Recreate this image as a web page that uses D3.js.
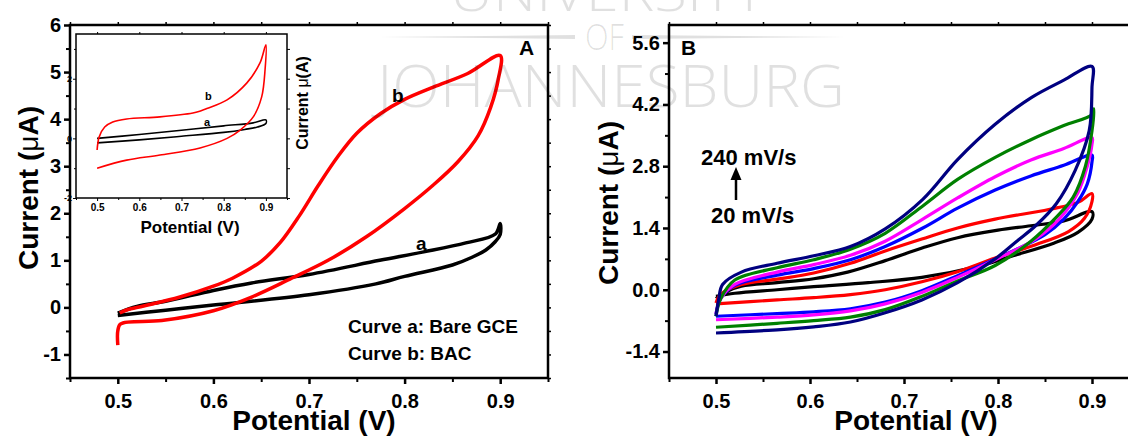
<!DOCTYPE html>
<html>
<head>
<meta charset="utf-8">
<script src="https://cdn.jsdelivr.net/npm/d3@7"></script>
<style>
  body { margin: 0; background: #fff; }
  svg { display: block; font-family: "Liberation Sans", Arial, sans-serif; }
</style>
</head>
<body>
<svg id="chart" width="1128" height="436"></svg>
<script>
// ---- tick values ----
const potTicks = [0.5, 0.6, 0.7, 0.8, 0.9];
const potMinor = [0.45, 0.55, 0.65, 0.75, 0.85, 0.95];
const curTicksA = [-1, 0, 1, 2, 3, 4, 5, 6];
const curMinorA = [-1.5, -0.5, 0.5, 1.5, 2.5, 3.5, 4.5, 5.5];
const curTicksB = [-1.4, 0, 1.4, 2.8, 4.2, 5.6];
const curMinorB = [-0.7, 0.7, 2.1, 3.5, 4.9];
const insetTicks = [-2, 0, 2];
const insetMinor = [-1, 1, 3];

// ---- panel A: [potential V, current uA] ----
const bareGCE = [
  [0.5, -0.12], [0.52, 0.02], [0.55, 0.13], [0.6, 0.36], [0.64, 0.52], [0.7, 0.7],
  [0.774, 1.0], [0.82, 1.18], [0.864, 1.37], [0.895, 1.56], [0.9, 1.78], [0.9, 1.55],
  [0.895, 1.4], [0.885, 1.22], [0.87, 1.06], [0.85, 0.9], [0.8, 0.66], [0.77, 0.5],
  [0.7, 0.27], [0.6, 0.05], [0.55, -0.06], [0.5, -0.17]
];
const bacCurve = [
  [0.5, -0.8], [0.5, -0.5], [0.503, -0.35], [0.546, -0.28], [0.6, -0.07], [0.64, 0.22],
  [0.68, 0.6], [0.72, 1.0], [0.76, 1.5], [0.8, 2.1], [0.83, 2.6], [0.856, 3.1],
  [0.877, 3.65], [0.89, 4.25], [0.898, 4.85], [0.9, 5.35], [0.866, 4.97], [0.83, 4.68],
  [0.8, 4.42], [0.775, 4.12], [0.75, 3.7], [0.73, 3.2], [0.71, 2.6], [0.69, 1.95],
  [0.67, 1.38], [0.65, 0.98], [0.62, 0.62], [0.6, 0.45], [0.565, 0.22], [0.527, 0.03],
  [0.51, -0.05], [0.502, -0.12]
];
// inset
const insetBare = [
  [0.5, 0.0], [0.6, 0.13], [0.7, 0.27], [0.8, 0.42], [0.87, 0.52], [0.9, 0.62],
  [0.9, 0.5], [0.88, 0.38], [0.85, 0.3], [0.8, 0.2], [0.7, 0.07], [0.6, -0.05], [0.5, -0.15]
];
const insetBAC = [
  [0.5, -0.39], [0.505, 0.05], [0.518, 0.38], [0.537, 0.55], [0.57, 0.65], [0.649, 0.72],
  [0.727, 0.85], [0.745, 0.92], [0.76, 1.0], [0.808, 1.29], [0.855, 1.86], [0.886, 2.53],
  [0.9, 3.14], [0.898, 2.3], [0.89, 1.39], [0.87, 0.72], [0.839, 0.28], [0.808, 0.0],
  [0.744, -0.32], [0.649, -0.56], [0.57, -0.73], [0.5, -1.0]
];

// ---- panel B: CVs at increasing scan rate (20 -> 240 mV/s) ----
const cv1 = [
  [0.5, -0.2], [0.51, -0.05], [0.527, 0.08], [0.565, 0.16], [0.604, 0.25], [0.64, 0.4],
  [0.68, 0.66], [0.72, 0.95], [0.757, 1.18], [0.8, 1.35], [0.835, 1.45], [0.87, 1.56], [0.9, 1.77],
  [0.9, 1.6], [0.885, 1.3], [0.86, 1.06], [0.816, 0.77], [0.777, 0.52], [0.719, 0.28],
  [0.662, 0.16], [0.604, 0.07], [0.565, 0.0], [0.52, -0.08], [0.5, -0.15]
];
const cv2 = [
  [0.5, -0.3], [0.505, -0.1], [0.527, 0.12], [0.565, 0.24], [0.604, 0.38], [0.643, 0.6],
  [0.68, 0.88], [0.719, 1.15], [0.757, 1.4], [0.797, 1.6], [0.854, 1.82], [0.885, 1.98], [0.9, 2.18],
  [0.9, 2.0], [0.892, 1.62], [0.875, 1.32], [0.84, 1.02], [0.797, 0.72], [0.757, 0.41],
  [0.719, 0.18], [0.68, 0.0], [0.643, -0.11], [0.604, -0.18], [0.565, -0.23], [0.5, -0.32]
];
const cv3 = [
  [0.5, -0.55], [0.505, -0.2], [0.52, 0.1], [0.565, 0.33], [0.604, 0.48], [0.643, 0.68],
  [0.68, 0.98], [0.72, 1.4], [0.757, 1.85], [0.797, 2.26], [0.835, 2.58], [0.87, 2.82], [0.9, 3.05],
  [0.9, 2.9], [0.895, 2.4], [0.885, 2.0], [0.87, 1.6], [0.85, 1.25], [0.82, 0.92], [0.797, 0.7],
  [0.757, 0.32], [0.719, -0.02], [0.68, -0.28], [0.643, -0.43], [0.604, -0.5], [0.565, -0.54], [0.5, -0.6]
];
const cv4 = [
  [0.5, -0.55], [0.505, -0.2], [0.52, 0.12], [0.565, 0.4], [0.604, 0.57], [0.643, 0.78],
  [0.68, 1.1], [0.72, 1.6], [0.757, 2.08], [0.797, 2.56], [0.835, 2.94], [0.87, 3.2], [0.9, 3.45],
  [0.9, 3.3], [0.895, 2.8], [0.885, 2.2], [0.865, 1.6], [0.84, 1.15], [0.797, 0.68], [0.757, 0.28],
  [0.719, -0.06], [0.68, -0.32], [0.643, -0.48], [0.604, -0.57], [0.565, -0.62], [0.5, -0.68]
];
const cv5 = [
  [0.5, -0.6], [0.505, -0.2], [0.52, 0.22], [0.565, 0.5], [0.604, 0.68], [0.643, 0.92],
  [0.68, 1.28], [0.72, 1.9], [0.757, 2.5], [0.797, 3.0], [0.835, 3.4], [0.87, 3.72], [0.9, 3.97],
  [0.902, 4.1], [0.9, 3.6], [0.893, 2.8], [0.88, 2.1], [0.86, 1.6], [0.835, 1.1], [0.797, 0.55],
  [0.757, 0.2], [0.719, -0.15], [0.68, -0.45], [0.643, -0.62], [0.604, -0.7], [0.565, -0.76], [0.5, -0.85]
];
const cv6 = [
  [0.5, -0.6], [0.503, -0.2], [0.507, 0.12], [0.527, 0.4], [0.565, 0.6], [0.604, 0.77],
  [0.643, 0.98], [0.68, 1.38], [0.72, 2.05], [0.757, 2.95], [0.797, 3.75], [0.835, 4.35],
  [0.87, 4.75], [0.9, 5.06], [0.9, 4.6], [0.897, 3.6], [0.882, 2.7], [0.862, 1.95], [0.84, 1.45],
  [0.82, 1.1], [0.797, 0.7], [0.757, 0.16], [0.719, -0.23], [0.68, -0.52], [0.643, -0.73],
  [0.604, -0.84], [0.565, -0.91], [0.5, -0.98]
];
const loopsB = [cv1, cv2, cv3, cv4, cv5, cv6];
const loopColors = ["#000000", "#ff0000", "#0000ff", "#ff00ff", "#008000", "#000080"];

const svg = d3.select("#chart");
const FONT = '"Liberation Sans", Arial, sans-serif';

// draw an axis without its domain line, styled bold
function addAxis(g, axis, tx, ty, sw, fs) {
  const a = g.append("g")
    .attr("transform", `translate(${tx},${ty})`)
    .call(axis);
  a.select(".domain").remove();
  a.selectAll(".tick line").attr("stroke", "#000").attr("stroke-width", sw);
  a.selectAll(".tick text")
    .attr("fill", "#000")
    .attr("font-family", FONT)
    .attr("font-weight", "bold")
    .attr("font-size", fs);
  return a;
}

function frame(g, x, y, sw, fill) {
  g.append("rect")
    .attr("x", x.range()[0])
    .attr("y", y.range()[1])
    .attr("width", x.range()[1] - x.range()[0])
    .attr("height", y.range()[0] - y.range()[1])
    .attr("fill", fill)
    .attr("stroke", "#000")
    .attr("stroke-width", sw);
}

const fmt1 = d => d.toFixed(1);

/*******************************/
/*          panel A            */
/*******************************/
const xA = d3.scaleLinear().domain([0.45, 0.95]).range([70, 548]);
const yA = d3.scaleLinear().domain([-1.5, 6]).range([378, 25]);
const gA = svg.append("g");

frame(gA, xA, yA, 2.5, "none");
addAxis(gA, d3.axisBottom(xA).tickValues(potTicks).tickSize(6).tickPadding(10).tickFormat(fmt1), 0, 378, 2.5, 20);
addAxis(gA, d3.axisBottom(xA).tickValues(potMinor).tickSize(4).tickFormat(""), 0, 378, 2, 10);
addAxis(gA, d3.axisLeft(yA).tickValues(curTicksA).tickSize(6).tickPadding(3).tickFormat(d => String(d)), 70, 0, 2.5, 20);
addAxis(gA, d3.axisLeft(yA).tickValues(curMinorA).tickSize(4).tickFormat(""), 70, 0, 2, 10);
addAxis(gA, d3.axisTop(xA).tickValues(potTicks.concat(potMinor)).tickSize(3).tickFormat(""), 0, 25, 1.5, 10);
addAxis(gA, d3.axisRight(yA).tickValues(curTicksA.concat(curMinorA)).tickSize(3).tickFormat(""), 548, 0, 1.5, 10);

const lineA = d3.line().x(d => xA(d[0])).y(d => yA(d[1])).curve(d3.curveCatmullRom.alpha(0.5));
gA.append("path").attr("d", lineA(bareGCE)).attr("fill", "none").attr("stroke", "#000")
  .attr("stroke-width", 3.5).attr("stroke-linejoin", "round");
gA.append("path").attr("d", lineA(bacCurve)).attr("fill", "none").attr("stroke", "#ff0000")
  .attr("stroke-width", 3.5).attr("stroke-linejoin", "round");

gA.append("text").attr("x", 392).attr("y", 102).text("b")
  .attr("font-size", 19).attr("font-weight", "bold");
gA.append("text").attr("x", 416).attr("y", 250).text("a")
  .attr("font-size", 19).attr("font-weight", "bold");
gA.append("text").attr("x", 519).attr("y", 55).text("A")
  .attr("font-size", 21).attr("font-weight", "bold");
gA.append("text").attr("x", 348).attr("y", 333).text("Curve a: Bare GCE")
  .attr("font-size", 19).attr("font-weight", "bold");
gA.append("text").attr("x", 348).attr("y", 360).text("Curve b: BAC")
  .attr("font-size", 19).attr("font-weight", "bold");

gA.append("text").attr("x", 314).attr("y", 430).attr("text-anchor", "middle")
  .attr("font-size", 28).attr("font-weight", "bold").text("Potential (V)");
const tA = gA.append("text").attr("transform", "translate(38,188) rotate(-90)")
  .attr("text-anchor", "middle").attr("font-size", 28).attr("font-weight", "bold");
tA.append("tspan").text("Current (");
tA.append("tspan").attr("font-weight", "normal").text("\u03bc");
tA.append("tspan").text("A)");

/* inset */
const xI = d3.scaleLinear().domain([0.45, 0.95]).range([76, 287]);
const yI = d3.scaleLinear().domain([-2, 3.5]).range([198, 34]);
const gI = svg.append("g");
frame(gI, xI, yI, 1.5, "#fff");
addAxis(gI, d3.axisBottom(xI).tickValues(potTicks).tickSize(3).tickPadding(3).tickFormat(fmt1), 0, 198, 1, 10);
addAxis(gI, d3.axisBottom(xI).tickValues(potMinor).tickSize(2).tickFormat(""), 0, 198, 1, 10);
addAxis(gI, d3.axisLeft(yI).tickValues(insetTicks).tickSize(3).tickPadding(1).tickFormat(d => String(d)), 76, 0, 1, 9);
addAxis(gI, d3.axisLeft(yI).tickValues(insetMinor).tickSize(2).tickFormat(""), 76, 0, 1, 9);
addAxis(gI, d3.axisRight(yI).tickValues(insetTicks.concat(insetMinor)).tickSize(3).tickFormat(""), 287, 0, 1, 9);
addAxis(gI, d3.axisTop(xI).tickValues(potTicks).tickSize(2).tickFormat(""), 0, 34, 1, 9);

const lineI = d3.line().x(d => xI(d[0])).y(d => yI(d[1])).curve(d3.curveCatmullRom.alpha(0.5));
gI.append("path").attr("d", lineI(insetBare)).attr("fill", "none").attr("stroke", "#000").attr("stroke-width", 1.6);
gI.append("path").attr("d", lineI(insetBAC)).attr("fill", "none").attr("stroke", "#ff0000").attr("stroke-width", 1.6);
gI.append("text").attr("x", 205).attr("y", 100).text("b").attr("font-size", 11).attr("font-weight", "bold");
gI.append("text").attr("x", 204).attr("y", 126).text("a").attr("font-size", 11).attr("font-weight", "bold");
gI.append("text").attr("x", 190).attr("y", 233).attr("text-anchor", "middle")
  .attr("font-size", 17).attr("font-weight", "bold").text("Potential (V)");
const tI = gI.append("text").attr("transform", "translate(308,103) rotate(-90)")
  .attr("text-anchor", "middle").attr("font-size", 16).attr("font-weight", "bold");
tI.append("tspan").text("Current ");
tI.append("tspan").attr("font-weight", "normal").text("\u03bc");
tI.append("tspan").text("(A)");

/*******************************/
/*          panel B            */
/*******************************/
const xB = d3.scaleLinear().domain([0.45, 0.95]).range([669, 1139]);
const yB = d3.scaleLinear().domain([-2, 6]).range([378, 25]);
const gB = svg.append("g");

frame(gB, xB, yB, 2.5, "none");
addAxis(gB, d3.axisBottom(xB).tickValues(potTicks).tickSize(6).tickPadding(10).tickFormat(fmt1), 0, 378, 2.5, 20);
addAxis(gB, d3.axisBottom(xB).tickValues(potMinor).tickSize(4).tickFormat(""), 0, 378, 2, 10);
addAxis(gB, d3.axisLeft(yB).tickValues(curTicksB).tickSize(6).tickPadding(3).tickFormat(fmt1), 669, 0, 2.5, 20);
addAxis(gB, d3.axisLeft(yB).tickValues(curMinorB).tickSize(4).tickFormat(""), 669, 0, 2, 10);
addAxis(gB, d3.axisTop(xB).tickValues(potTicks.concat(potMinor)).tickSize(3).tickFormat(""), 0, 25, 1.5, 10);

const lineB = d3.line().x(d => xB(d[0])).y(d => yB(d[1])).curve(d3.curveCatmullRom.alpha(0.5));
gB.selectAll(".cv")
  .data(loopsB)
  .join("path")
    .attr("class", "cv")
    .attr("d", d => lineB(d))
    .attr("fill", "none")
    .attr("stroke", (d, i) => loopColors[i])
    .attr("stroke-width", 3.2)
    .attr("stroke-linejoin", "round");

gB.append("text").attr("x", 681).attr("y", 55).text("B").attr("font-size", 21).attr("font-weight", "bold");
gB.append("text").attr("x", 701).attr("y", 165).text("240 mV/s").attr("font-size", 22).attr("font-weight", "bold");
gB.append("text").attr("x", 711).attr("y", 223).text("20 mV/s").attr("font-size", 22).attr("font-weight", "bold");
// arrow 20 -> 240
gB.append("line").attr("x1", 736).attr("x2", 736).attr("y1", 200).attr("y2", 178)
  .attr("stroke", "#000").attr("stroke-width", 2.5);
gB.append("path").attr("d", "M736,167 L730.5,180 L741.5,180 Z").attr("fill", "#000");

gB.append("text").attr("x", 916).attr("y", 430).attr("text-anchor", "middle")
  .attr("font-size", 28).attr("font-weight", "bold").text("Potential (V)");
const tB = gB.append("text").attr("transform", "translate(618,203) rotate(-90)")
  .attr("text-anchor", "middle").attr("font-size", 28).attr("font-weight", "bold");
tB.append("tspan").text("Current (");
tB.append("tspan").attr("font-weight", "normal").text("\u03bc");
tB.append("tspan").text("A)");

/*******************************/
/*          watermark          */
/*******************************/
const wm = svg.append("g").attr("fill", "#000").attr("fill-opacity", 0.12)
  .attr("font-family", '"Open Sans", Lato, sans-serif').attr("font-weight", 300)
  .style("pointer-events", "none");
wm.append("text").attr("x", 450).attr("y", 11).attr("textLength", 315).attr("lengthAdjust", "spacingAndGlyphs")
  .attr("font-size", 52).text("UNIVERSITY");
wm.append("text").attr("x", 585).attr("y", 50).attr("textLength", 39).attr("lengthAdjust", "spacingAndGlyphs")
  .attr("font-size", 37).text("OF");
wm.append("text").attr("x", 377).attr("y", 107).attr("textLength", 468).attr("lengthAdjust", "spacingAndGlyphs")
  .attr("font-size", 58).text("JOHANNESBURG");
wm.append("path").attr("d", "M379,37 L575,35 L575,39 Z");
wm.append("path").attr("d", "M632,35 L846,37 L632,39 Z");
</script>
</body>
</html>
